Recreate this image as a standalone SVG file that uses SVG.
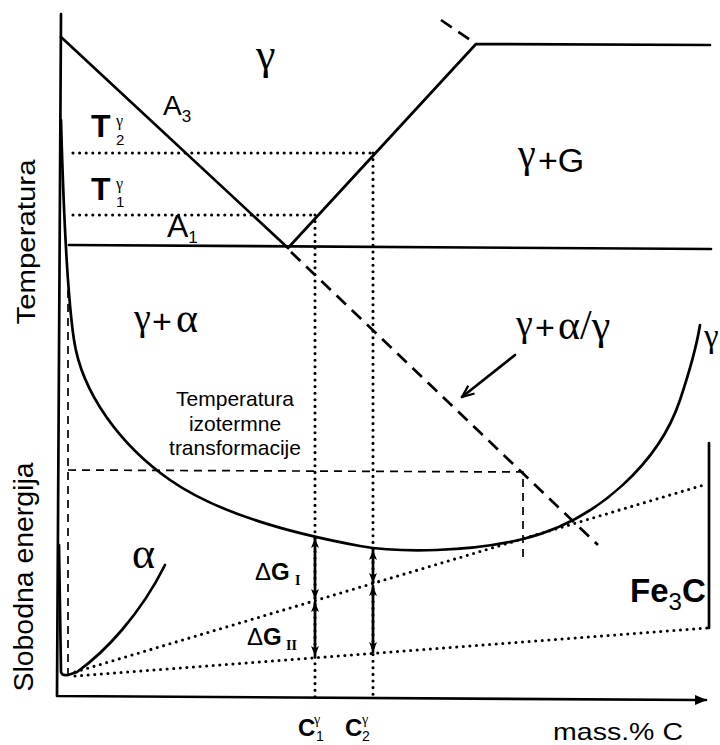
<svg xmlns="http://www.w3.org/2000/svg" width="720" height="745" viewBox="0 0 720 745">
<defs>
<style>
.s{fill:none;stroke:#000;stroke-width:2.7;stroke-linecap:round;stroke-linejoin:round}
.dot{fill:none;stroke:#000;stroke-width:3.1;stroke-linecap:round;stroke-dasharray:0 6.6}
.dash{fill:none;stroke:#000;stroke-width:1.7;stroke-dasharray:8 6}
.ldash{fill:none;stroke:#000;stroke-width:2.7;stroke-dasharray:13 8}
.sans{font-family:"Liberation Sans",Arial,sans-serif;fill:#000}
.ser{font-family:"Liberation Serif","Times New Roman",serif;fill:#000}
.b{font-weight:bold}
</style>
<marker id="axh" viewBox="0 0 12 10" refX="11" refY="5" markerWidth="12" markerHeight="10" markerUnits="userSpaceOnUse" orient="auto"><path d="M0,0 L12,5 L0,10 z" fill="#000"/></marker>
<marker id="dh" viewBox="0 0 10 8" refX="10" refY="4" markerWidth="10" markerHeight="8" markerUnits="userSpaceOnUse" orient="auto-start-reverse"><path d="M0,0 L10,4 L0,8 L2.5,4 z" fill="#000"/></marker>
<marker id="vh" viewBox="0 0 14 12" refX="13" refY="6" markerWidth="14" markerHeight="12" markerUnits="userSpaceOnUse" orient="auto"><path d="M1,1 L13,6 L1,11" fill="none" stroke="#000" stroke-width="2.2"/></marker>
</defs>
<rect width="720" height="745" fill="#fff"/>

<g id="axes">
<path class="s" d="M61,14 L57,696 L698,700" />
<path class="s" d="M698,700 L706,700" marker-end="url(#axh)"/>
</g>

<g id="phase-diagram">
<path class="s" d="M61,37 L288,248 L476,44 L710,45"/>
<path class="s" d="M69,245 L711,249"/>
<path class="ldash" d="M441,20 L476,44"/>
<path class="ldash" d="M291,252 L598,545"/>
<path class="dot" d="M73,153 L373,153"/>
<path class="dot" d="M73,215 L315,215"/>
</g>

<g id="free-energy">
<path class="s" d="M61,120 C64,230 68,300 74,340 C82,393 120,445 170,480 C220,515 300,535 360,546 C400,553 470,552 523,539 C600,520 660,460 680,400 C687,379 696,350 700,325"/>
<path class="s" d="M59,545 L61,672 Q62,676 68,675 L77,672 C105,652 140,615 165,565"/>
<path class="s" d="M709,443 L709,628"/>
<path class="dash" d="M68,290 L68,682"/>
<path class="dash" d="M68,470 L523,472 L523,557"/>
<path class="dot" d="M75,672 L707,484"/>
<path class="dot" d="M75,676 L707,628"/>
<path class="dot" d="M315,215 L315,697"/>
<path class="dot" d="M373,153 L373,697"/>
</g>

<g id="connectors">
<path class="s" d="M315,538 L315,599" marker-start="url(#dh)" marker-end="url(#dh)"/>
<path class="s" d="M315,602 L315,656" marker-start="url(#dh)" marker-end="url(#dh)"/>
<path class="s" d="M373,550 L373,583" marker-start="url(#dh)" marker-end="url(#dh)"/>
<path class="s" d="M373,586 L373,652" marker-start="url(#dh)" marker-end="url(#dh)"/>
<path class="s" d="M515,355 L462,397" marker-end="url(#vh)"/>
</g>

<g id="labels">
<text class="ser" x="256" y="69" font-size="44">γ</text>
<text class="sans" x="163" y="115" font-size="28">A<tspan font-size="17" dy="7">3</tspan></text>
<text class="sans b" x="91" y="137" font-size="32">T</text>
<text class="ser" x="116" y="126" font-size="16">γ</text>
<text class="sans" x="116" y="145" font-size="15">2</text>
<text class="sans b" x="91" y="200" font-size="32">T</text>
<text class="ser" x="116" y="189" font-size="16">γ</text>
<text class="sans" x="116" y="207" font-size="15">1</text>
<text class="sans" x="167" y="237" font-size="32">A<tspan font-size="17" dy="6">1</tspan></text>
<text x="518" y="167"><tspan class="ser" font-size="40">γ</tspan><tspan class="sans" font-size="34" x="538" y="172">+G</tspan></text>
<text x="134" y="330"><tspan class="ser" font-size="38">γ</tspan><tspan class="sans" font-size="34" x="152" y="333">+</tspan><tspan class="ser" font-size="42" x="176" y="332">α</tspan></text>
<text x="516" y="336"><tspan class="ser" font-size="38">γ</tspan><tspan class="sans" font-size="34" x="535" y="339">+</tspan><tspan class="ser" font-size="42" x="558" y="339">α/γ</tspan></text>
<text class="ser" x="704" y="347" font-size="33">γ</text>
<text class="sans" font-size="21" text-anchor="middle"><tspan x="235" y="406">Temperatura</tspan><tspan x="235" y="431">izotermne</tspan><tspan x="235" y="455">transformacije</tspan></text>
<text class="ser" x="132" y="568" font-size="44">α</text>
<text class="sans" x="255" y="580" font-size="24">Δ<tspan class="b">G</tspan></text>
<text class="ser b" x="295" y="585" font-size="14">I</text>
<text class="sans" x="247" y="645" font-size="24">Δ<tspan class="b">G</tspan></text>
<text class="ser b" x="286" y="650" font-size="14">II</text>
<text class="sans b" x="630" y="602" font-size="33">Fe<tspan font-size="24" font-weight="normal" dy="8">3</tspan><tspan dy="-8">C</tspan></text>
<text class="sans b" x="298" y="736" font-size="24">C</text>
<text class="ser" x="314" y="724" font-size="14">γ</text>
<text class="sans" x="316" y="741" font-size="14">1</text>
<text class="sans b" x="345" y="736" font-size="24">C</text>
<text class="ser" x="362" y="724" font-size="14">γ</text>
<text class="sans" x="362" y="741" font-size="14">2</text>
<text class="sans" x="553" y="740" font-size="24" textLength="130" lengthAdjust="spacingAndGlyphs">mass.% C</text>
<text class="sans" font-size="26" text-anchor="middle" transform="translate(35,242) rotate(-90)" textLength="165" lengthAdjust="spacingAndGlyphs">Temperatura</text>
<text class="sans" font-size="27" text-anchor="middle" transform="translate(33,577) rotate(-90)" textLength="229" lengthAdjust="spacingAndGlyphs">Slobodna energija</text>
</g>
</svg>
